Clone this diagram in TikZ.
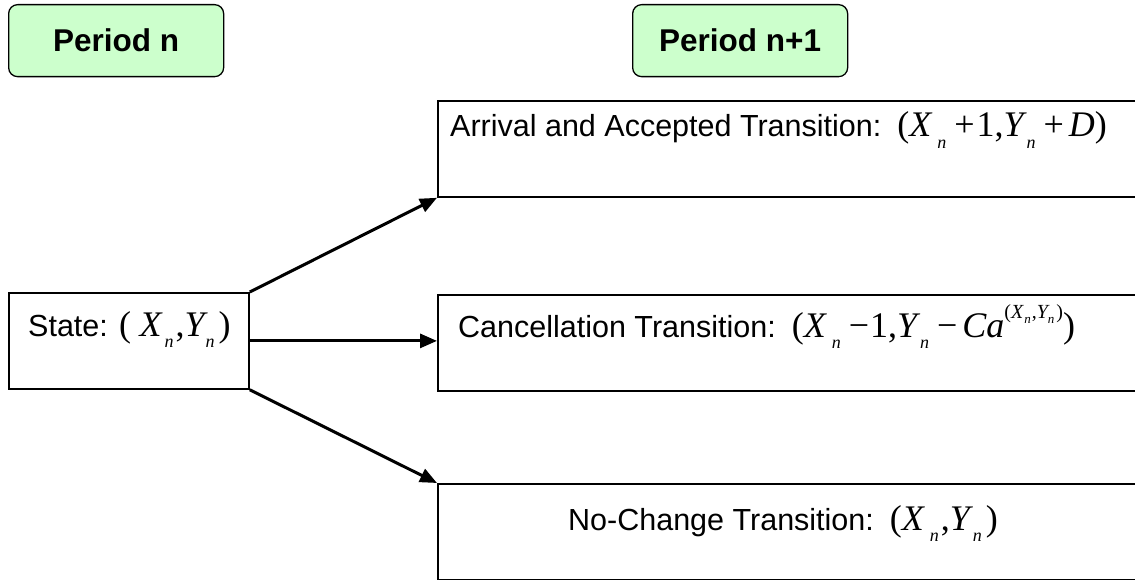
\documentclass[tikz,border=0pt]{standalone}
\usepackage{fontspec}
\setmainfont{Liberation Sans}
\newfontfamily\tnr{Liberation Serif}
\usetikzlibrary{arrows.meta,calc}
\newcommand\mv[1]{{\fontsize{36}{36}\tnr\itshape #1}}
\newcommand\mr[1]{{\fontsize{36}{36}\tnr #1}}
\newcommand\sbn{\raisebox{-0.38em}{\fontsize{18}{18}\tnr\itshape n}}
\newcommand\ssbn{\raisebox{-0.25em}{\fontsize{13}{13}\tnr\itshape n}}
\tikzset{
  period/.style={draw, line width=1.3pt, rounded corners=9pt, fill=green!20, minimum width=215pt, minimum height=72pt, font=\fontsize{31.5}{31.5}\selectfont\bfseries, anchor=north west},
  box/.style={draw, line width=1.8pt, minimum height=96pt, anchor=north west, inner sep=0pt},
  lbl/.style={anchor=base west, inner sep=0pt, font=\fontsize{30.5}{30.5}\selectfont},
  arr/.style={line width=3pt, -{Triangle[length=17pt,width=14pt]}}
}
\begin{document}
\begin{tikzpicture}[x=1pt,y=-1pt]
\useasboundingbox (0,0) rectangle (1135,580);
\clip (0,0) rectangle (1135,580);
\node[period] (pn) at (8,4) {Period n};
\node[period] (pn1) at (632,4) {Period n+1};
\node[box, minimum width=240pt] (state) at (8,292) {};
\node[box, minimum width=720pt] (acc) at (437,100) {};
\node[box, minimum width=720pt] (can) at (437,294) {};
\node[box, minimum width=720pt] (noc) at (437,483) {};
\node[lbl] (tstate) at (28,336) {State: \mr{(} \mv{X}\kern3pt\sbn\kern2pt\mr{,}\mv{Y}\kern1pt\sbn\kern4pt\mr{)}};
\node[lbl] (tacc) at (450,137) {Arrival and Accepted Transition:\hspace{16pt}\mr{(}\mv{X}\kern6pt\sbn\kern8pt\mr{+}\kern2pt\mr{1,}\mv{Y}\kern3pt\sbn\kern8pt\mr{+}\kern5pt\mv{D}\mr{)}};
\node[lbl] (tcan) at (458,337) {Cancellation Transition:\hspace{16pt}\mr{(}\mv{X}\kern6pt\sbn\kern8pt\mr{−}\kern1pt\mr{1,}\mv{Y}\kern3pt\sbn\kern8pt\mr{−}\kern5pt\mv{Ca}\raisebox{0.62em}{\fontsize{20}{20}\tnr (\itshape X\kern1pt\ssbn\kern1pt\upshape,\itshape Y\ssbn\upshape\kern2pt)}\mr{)}};
\node[lbl] (tnoc) at (568,530) {No-Change Transition:\hspace{16pt}\mr{(}\mv{X}\kern6pt\sbn\kern2pt\mr{,}\mv{Y}\kern3pt\sbn\kern4pt\mr{)}};
\draw[arr] (state.north east) -- (acc.south west);
\draw[arr] (state.east) -- (can.west |- state.east);
\draw[arr] (state.south east) -- (noc.north west);
\end{tikzpicture}
\end{document}
